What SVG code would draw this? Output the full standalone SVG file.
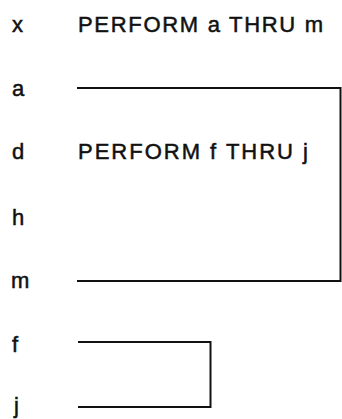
<svg xmlns="http://www.w3.org/2000/svg" width="342" height="419" viewBox="0 0 342 419">
<style>
text{font-family:"Liberation Sans",Arial,sans-serif;font-size:22px;fill:#111;stroke:#111;stroke-width:0.5}
.c{fill:none;stroke:#111;stroke-width:2}
</style>
<rect width="342" height="419" fill="#fff"/>
<g id="labels">
<text x="12" y="32">x</text>
<text x="12" y="96">a</text>
<text x="12" y="159">d</text>
<text x="12" y="225">h</text>
<text x="11" y="288">m</text>
<text x="12" y="352">f</text>
<text x="14" y="413">j</text>
</g>
<g id="stmt1"><text x="78" y="32" textLength="245" lengthAdjust="spacing">PERFORM a THRU m</text></g>
<g id="stmt2"><text x="78" y="159" textLength="230" lengthAdjust="spacing">PERFORM f THRU j</text></g>
<g id="connectors">
<polyline class="c" points="77,88 340.5,88 340.5,281 77,281"/>
<polyline class="c" points="78,342 210.5,342 210.5,407 78,407"/>
</g>
</svg>
